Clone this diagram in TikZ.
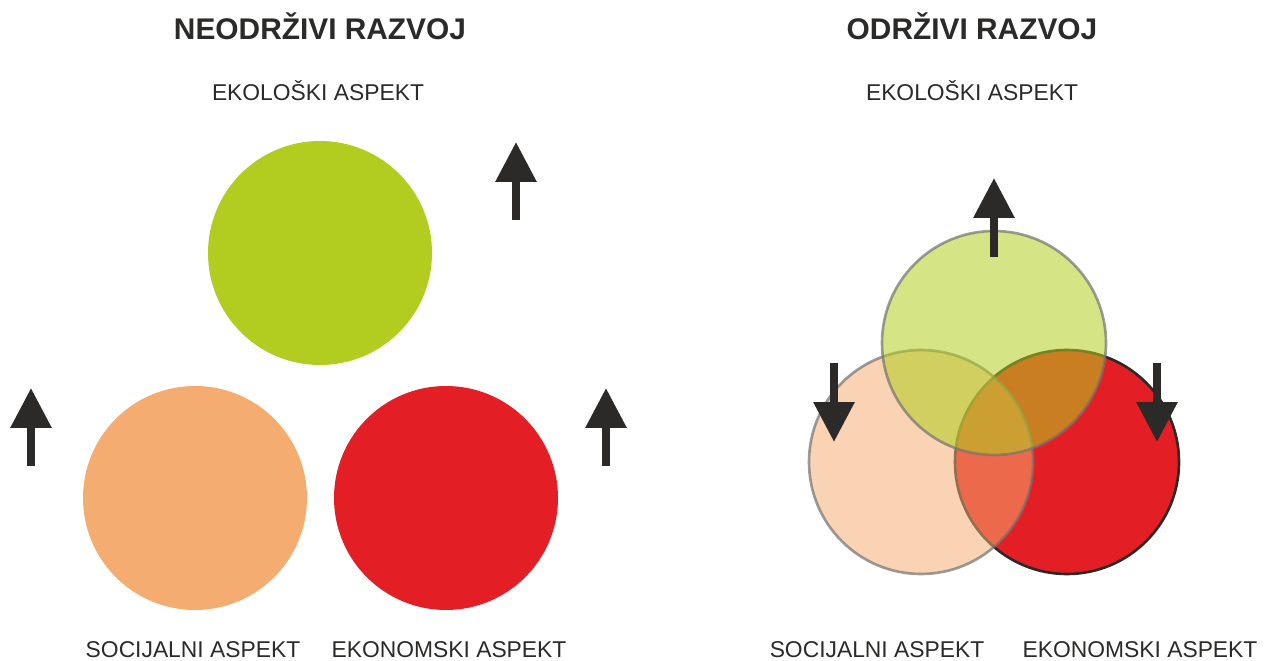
\documentclass[tikz,border=0pt]{standalone}
\usepackage{fontspec}
\setmainfont{Liberation Sans}
\usetikzlibrary{arrows.meta}

\definecolor{ekogreen}{HTML}{B2CD1F}
\definecolor{socorange}{HTML}{F4AC70}
\definecolor{ekored}{HTML}{E31E24}
\definecolor{darkgray}{HTML}{2B2A29}

\begin{document}
\begin{tikzpicture}[x=0.02cm, y=-0.02cm,
    trend/.style={draw=darkgray, line width=4.5pt, -{Triangle[length=22.7pt,width=22.4pt]}},
    heading/.style={font=\fontsize{17}{20}\selectfont\bfseries, text=darkgray, anchor=base},
    aspect/.style={font=\fontsize{13}{16}\selectfont, text=darkgray, anchor=base}]
        \useasboundingbox (0,0) rectangle (1271,661);
        % Draw the separate circles (unsustainable)
        \fill[ekogreen] (320,253) circle (112);
        \fill[socorange] (195,498) circle (112);
        \fill[ekored] (446,498) circle (112);
        % Draw the overlapping circles (sustainable)
        \filldraw[fill=ekored, draw=darkgray, line width=1.5pt] (1067,462) circle (112);
        \filldraw[fill=socorange, fill opacity=0.53, draw=black!55, draw opacity=0.7, line width=1.5pt] (921,462) circle (112);
        \filldraw[fill=ekogreen, fill opacity=0.55, draw=black!55, draw opacity=0.7, line width=1.5pt] (994,343) circle (112);
        % Draw the up arrows
        \foreach \x/\y in {516/142, 31/388, 606/388}
        \draw[trend] (\x,\y+78) -- (\x,\y);
        \draw[trend] (994,257) -- (994,178);
        % Draw the down arrows
        \foreach \x in {834, 1157}
        \draw[trend] (\x,363) -- (\x,442);
        % Labels
        \node[heading] (titleL) at (320,40) {NEODRŽIVI RAZVOJ};
        \node[heading] (titleR) at (972,40) {ODRŽIVI RAZVOJ};
        \node[aspect] (ekoL) at (318,101) {EKOLOŠKI ASPEKT};
        \node[aspect] (ekoR) at (972,101) {EKOLOŠKI ASPEKT};
        \node[aspect] (socL) at (193,658) {SOCIJALNI ASPEKT};
        \node[aspect] (ekonL) at (449,658) {EKONOMSKI ASPEKT};
        \node[aspect] (socR) at (877,658) {SOCIJALNI ASPEKT};
        \node[aspect] (ekonR) at (1140,658) {EKONOMSKI ASPEKT};
\end{tikzpicture}
\end{document}
